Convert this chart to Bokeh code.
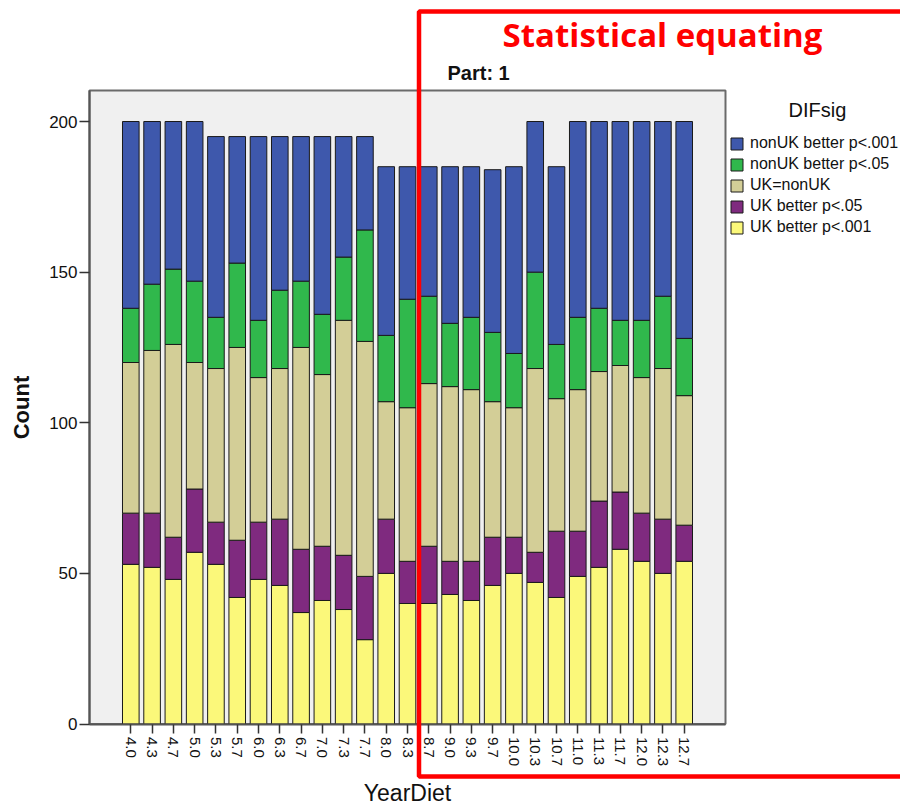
import math
from bokeh.plotting import figure
from bokeh.models import (Range1d, FixedTicker, Legend, LegendItem,
                          Label, BoxAnnotation, ColumnDataSource)
from bokeh.embed import file_html
from bokeh.resources import INLINE

years = ["4.0", "4.3", "4.7", "5.0", "5.3", "5.7", "6.0", "6.3", "6.7", "7.0",
         "7.3", "7.7", "8.0", "8.3", "8.7", "9.0", "9.3", "9.7", "10.0", "10.3",
         "10.7", "11.0", "11.3", "11.7", "12.0", "12.3", "12.7"]

uk_better_p001 = [53, 52, 48, 57, 53, 42, 48, 46, 37, 41, 38, 28, 50, 40, 40, 43, 41, 46, 50, 47, 42, 49, 52, 58, 54, 50, 54]
uk_better_p05 = [17, 18, 14, 21, 14, 19, 19, 22, 21, 18, 18, 21, 18, 14, 19, 11, 13, 16, 12, 10, 22, 15, 22, 19, 16, 18, 12]
uk_eq_nonuk = [50, 54, 64, 42, 51, 64, 48, 50, 67, 57, 78, 78, 39, 51, 54, 58, 57, 45, 43, 61, 44, 47, 43, 42, 45, 50, 43]
nonuk_better_p05 = [18, 22, 25, 27, 17, 28, 19, 26, 22, 20, 21, 37, 22, 36, 29, 21, 24, 23, 18, 32, 18, 24, 21, 15, 19, 24, 19]
nonuk_better_p001 = [62, 54, 49, 53, 60, 42, 61, 51, 48, 59, 40, 31, 56, 44, 43, 52, 50, 54, 62, 50, 59, 65, 62, 66, 66, 58, 72]

series_keys = ["uk_p001", "uk_p05", "uk_eq", "nonuk_p05", "nonuk_p001"]
series_names = ["UK better p<.001", "UK better p<.05", "UK=nonUK",
                "nonUK better p<.05", "nonUK better p<.001"]
series_colors = ["#fbf87a", "#7f2a7f", "#d3ce97", "#30b84c", "#3e58ac"]
y_ticks = [0, 50, 100, 150, 200]

positions = list(range(len(years)))
source = ColumnDataSource(dict(
    pos=positions,
    years=years,
    uk_p001=uk_better_p001,
    uk_p05=uk_better_p05,
    uk_eq=uk_eq_nonuk,
    nonuk_p05=nonuk_better_p05,
    nonuk_p001=nonuk_better_p001,
))

FONT = "Liberation Sans"
W, H = 900, 805

# pixel layout of the chart (category pitch / value scale)
X0, DX = 130.3, 21.285       # px of first category centre, px per category
Y0, DY = 723.5, 3.0125       # px of zero, px per count


def fx(px):
    return (px - X0) / DX


def fy(py):
    return (Y0 - py) / DY


p = figure(
    x_range=Range1d(fx(0), fx(W)),
    y_range=Range1d(fy(H), fy(0)),
    width=W, height=H,
    output_backend="svg", toolbar_location=None,
    min_border_left=0, min_border_right=0, min_border_top=0, min_border_bottom=0,
)
p.background_fill_color = "white"
p.border_fill_color = "white"
p.outline_line_color = None
p.grid.visible = False

FRAME_L, FRAME_R, FRAME_T = fx(89), fx(725), fy(90)

# plot area background
p.add_layout(BoxAnnotation(left=FRAME_L, right=FRAME_R, bottom=0, top=FRAME_T,
                           fill_color="#f0f0f0", fill_alpha=1,
                           line_color="#6a6a6a", line_alpha=1, line_width=2,
                           level="underlay"))

renderers = p.vbar_stack(series_keys, x="pos", source=source, width=0.78,
                         color=series_colors, line_color="#1a1a1a", line_width=1)

# axes
p.xaxis.fixed_location = 0
p.yaxis.fixed_location = FRAME_L
p.xaxis.bounds = (FRAME_L, FRAME_R)
p.yaxis.bounds = (0, FRAME_T)
p.xaxis.ticker = FixedTicker(ticks=positions)
p.xaxis.major_label_overrides = {i: y for i, y in zip(positions, years)}
p.yaxis.ticker = FixedTicker(ticks=y_ticks)
p.yaxis.minor_tick_line_color = None
p.xaxis.minor_tick_line_color = None
for ax in (p.xaxis, p.yaxis):
    ax.axis_line_color = "#555555"
    ax.axis_line_width = 2
    ax.major_tick_line_color = "#333333"
    ax.major_tick_line_width = 1.5
    ax.major_tick_in = 0
    ax.major_label_text_font = FONT
    ax.major_label_text_color = "#111111"
    ax.axis_label_text_font = FONT
    ax.axis_label_text_color = "#111111"

p.yaxis.major_tick_out = 10
p.yaxis.major_label_standoff = 2
p.yaxis.major_label_text_font_size = "17px"
p.yaxis.axis_label = "Count"
p.yaxis.axis_label_text_font_size = "22px"
p.yaxis.axis_label_text_font_style = "bold"
p.yaxis.axis_label_standoff = 12

p.xaxis.major_tick_out = 9
p.xaxis.major_label_standoff = 4
p.xaxis.major_label_text_font_size = "15px"
p.xaxis.major_label_orientation = -math.pi / 2
p.xaxis.axis_label = "YearDiet"
p.xaxis.axis_label_text_font_size = "23px"
p.xaxis.axis_label_text_font_style = "normal"
p.xaxis.axis_label_standoff = 10

# legend
items = [LegendItem(label=series_names[i], renderers=[renderers[i]]) for i in range(4, -1, -1)]
legend = Legend(items=items, location=(729, H - 236), padding=0, margin=0, spacing=3,
                glyph_width=15, glyph_height=15, label_height=15, label_standoff=6,
                label_text_font=FONT, label_text_font_size="16px", label_text_color="#111111",
                border_line_alpha=0, background_fill_alpha=0)
p.add_layout(legend)

p.add_layout(Label(x=fx(817), y=fy(109.5), text="DIFsig",
                   text_align="center", text_baseline="alphabetic",
                   text_font=FONT, text_font_size="20px", text_color="#111111"))

p.add_layout(Label(x=fx(447), y=fy(72), text="Part: 1",
                   text_align="left", text_baseline="alphabetic",
                   text_font=FONT, text_font_size="20px", text_font_style="bold",
                   text_color="#111111"))

# red highlight
p.add_layout(BoxAnnotation(left=fx(418.5), right=fx(W + 40), top=fy(11), bottom=fy(776),
                           fill_alpha=0, line_color="#ff0000", line_alpha=1, line_width=4.5,
                           level="overlay"))
p.add_layout(Label(x=fx(662), y=fy(34),
                   text="Statistical equating", text_align="center",
                   text_baseline="alphabetic", text_font="Open Sans",
                   text_font_size="33px", text_font_style="bold", text_color="#ff0000"))

open("out.html", "w").write(file_html(p, INLINE))
